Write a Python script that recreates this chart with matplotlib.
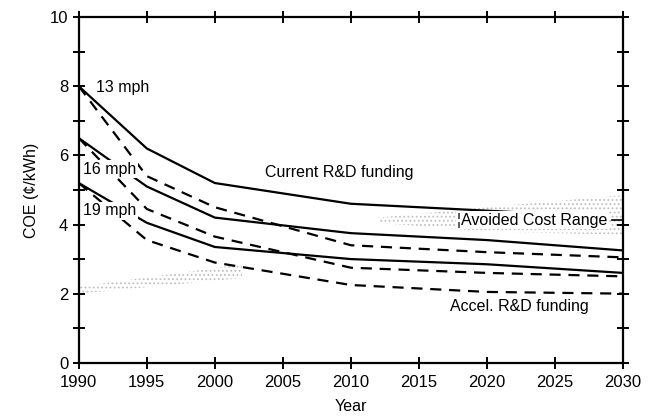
import matplotlib
matplotlib.use("Agg")
import matplotlib.pyplot as plt
from matplotlib.ticker import MultipleLocator

plt.rcParams['font.family'] = ['Liberation Sans', 'DejaVu Sans']
plt.rcParams['hatch.linewidth'] = 0.8

# COE projections (cents/kWh) by wind speed
years = [1990, 1995, 2000, 2010, 2020, 2030]
years_13_current = [1990, 1995, 2000, 2010, 2022.5]  # disappears into the avoided cost band
mph13_current = [8.0, 6.2, 5.2, 4.6, 4.35]
mph13_accel = [8.0, 5.4, 4.5, 3.4, 3.2, 3.05]
mph16_current = [6.5, 5.1, 4.2, 3.75, 3.55, 3.25]
mph16_accel = [6.5, 4.45, 3.65, 2.75, 2.6, 2.5]
mph19_current = [5.2, 4.05, 3.35, 3.0, 2.85, 2.6]
mph19_accel = [5.2, 3.55, 2.9, 2.25, 2.05, 2.0]

# shaded cost ranges
early_years = [1990, 2002]
early_low = [2.0, 2.45]
early_high = [2.2, 2.85]
avoided_years = [2012, 2020, 2030]
avoided_low = [4.05, 3.8, 3.7]
avoided_high = [4.2, 4.5, 4.85]

fig = plt.figure(figsize=(6.51, 4.17), dpi=100)
ax = fig.add_axes([0.121, 0.13, 0.836, 0.829])

# stippled ranges
ax.fill_between(early_years, early_low, early_high, facecolor='none',
                edgecolor='0.75', hatch='....', linewidth=0)
ax.fill_between(avoided_years, avoided_low, avoided_high, facecolor='none',
                edgecolor='0.75', hatch='....', linewidth=0)

solid = dict(color='black', lw=1.6, solid_joinstyle='round')
dashed = dict(color='black', lw=1.6, linestyle=(0, (5, 3.5)))

ax.plot(years_13_current, mph13_current, **solid)
ax.plot(years, mph13_accel, **dashed)
ax.plot(years, mph16_current, **solid)
ax.plot(years, mph16_accel, **dashed)
ax.plot(years, mph19_current, **solid)
ax.plot(years, mph19_accel, **dashed)

# labels
fs = 11.5
bg = dict(facecolor='white', edgecolor='none', pad=1)
ax.text(1991.3, 7.95, "13 mph", fontsize=fs, va='center', bbox=bg)
ax.text(1990.3, 5.6, "16 mph", fontsize=fs, va='center', bbox=bg)
ax.text(1990.3, 4.4, "19 mph", fontsize=fs, va='center', bbox=bg)
ax.text(2003.7, 5.5, "Current R&D funding", fontsize=fs, va='center')
ax.text(2017.3, 1.62, "Accel. R&D funding", fontsize=fs, va='center')
ax.text(2017.8, 4.12, "\u00a6Avoided Cost Range", fontsize=fs, va='center', bbox=bg)
ax.plot([2029.2, 2030], [4.12, 4.12], color='black', lw=1.2)

ax.set_xlim(1990, 2030)
ax.set_ylim(0, 10)
ax.xaxis.set_major_locator(MultipleLocator(5))
ax.yaxis.set_major_locator(MultipleLocator(2))
ax.yaxis.set_minor_locator(MultipleLocator(1))

for s in ax.spines.values():
    s.set_linewidth(1.6)

ax.tick_params(which='both', direction='inout', length=8, width=1.4,
               top=True, right=True, labelsize=12)
ax.tick_params(axis='x', pad=5)

ax.set_xlabel("Year", fontsize=fs, labelpad=6)
ax.set_ylabel("COE (\u00a2/kWh)", fontsize=fs, labelpad=8)

fig.savefig("out.png", dpi=100)
